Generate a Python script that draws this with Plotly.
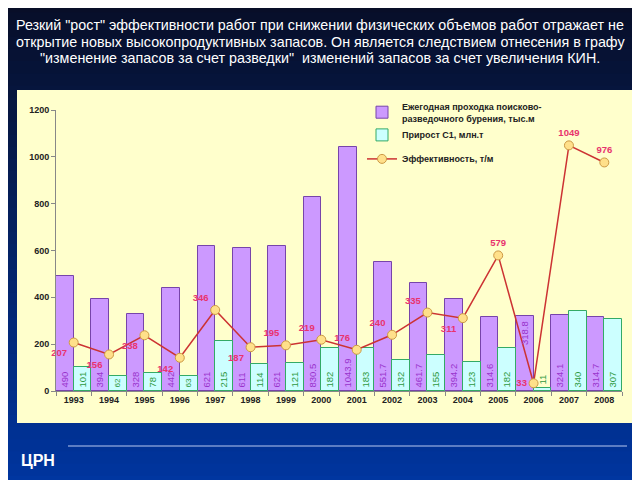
import plotly.graph_objects as go

years = [str(y) for y in range(1993, 2009)]
drilling = [490, 394, 328, 442, 621, 611, 621, 830.5, 1043.9, 551.7, 461.7, 394.2, 314.6, 318.8, 324.1, 314.7]
growth = [101, 62, 78, 63, 215, 114, 121, 182, 183, 132, 155, 123, 182, 11, 340, 307]
efficiency = [207, 156, 238, 142, 346, 187, 195, 219, 176, 240, 335, 311, 579, 33, 1049, 976]
eff_pos = ["bottom left", "bottom left", "bottom left", "bottom left", "top left", "bottom left",
           "top left", "top left", "top left", "top left", "top left", "bottom left",
           "top center", "middle left", "top center", "top center"]

title_lines = [
    'Резкий "рост" эффективности работ при снижении физических объемов работ отражает не',
    'открытие новых высокопродуктивных запасов. Он является следствием отнесения в графу',
    '"изменение запасов за счет разведки"  изменений запасов за счет увеличения КИН.',
]

FONT = "Liberation Sans, Arial, sans-serif"
AX_FONT = "Liberation Sans, Arial, sans-serif"

# figure geometry (px); the page places the figure 8px in from the top-left
OFF = 8
W, H = 640, 480
L, R, T, B = 56 - OFF, 640 - (622 - OFF), 110 - OFF, 480 - (391 - OFF)
pw, ph = W - L - R, H - T - B


def px_x(px):
    return (px - OFF - L) / pw


def px_y(py):
    return (H - B - (py - OFF)) / ph


purple_text = [("" if y == "2006" else f"{v:g}") for y, v in zip(years, drilling)]
cyan_pos = ["outside" if v < 30 else "inside" for v in growth]

fig = go.Figure()
fig.add_trace(go.Bar(
    x=years, y=drilling, name="Ежегодная проходка поисково-<br>разведочного бурения, тыс.м",
    marker=dict(color="#CC99FF", line=dict(color="#7744AA", width=1)),
    text=purple_text, textposition="inside", insidetextanchor="start", textangle=-90,
    insidetextfont=dict(color="#9933CC", size=9.5, family=AX_FONT),
    legendgroup="a",
))
fig.add_trace(go.Bar(
    x=years, y=growth, name="Прирост С1, млн.т",
    marker=dict(color="#CCFFFF", line=dict(color="#33AA66", width=1)),
    text=[f"{v:g}" for v in growth], textposition=cyan_pos, insidetextanchor="start", textangle=-90,
    insidetextfont=dict(color="#2E9940", size=9.5, family=AX_FONT),
    outsidetextfont=dict(color="#2E9940", size=9.5, family=AX_FONT),
    legendgroup="a",
))
fig.add_trace(go.Scatter(
    x=years, y=efficiency, name="Эффективность, т/м", mode="lines+markers+text",
    line=dict(color="#CC3333", width=1.5),
    marker=dict(symbol="circle", size=9, color="#FFE08A", line=dict(color="#CC9944", width=1)),
    text=[str(v) for v in efficiency], textposition=eff_pos,
    textfont=dict(color="#E8336E", size=9.5, family=AX_FONT, weight="bold"),
    legendgroup="b", cliponaxis=False,
))

shapes = []
# background gradient (decorative)
n = 40
top = (8, 14, 40)
bot = (0, 54, 160)
for i in range(n):
    t = i / (n - 1)
    c = tuple(int(top[k] + (bot[k] - top[k]) * t) for k in range(3))
    y0 = i * (H + OFF) / n
    y1 = (i + 1) * (H + OFF) / n + 1
    shapes.append(dict(type="rect", xref="paper", yref="paper",
                       x0=px_x(0), x1=px_x(W + OFF), y0=px_y(y1), y1=px_y(y0),
                       fillcolor=f"rgb{c}", line=dict(width=0), layer="below"))
# chart panel
shapes.append(dict(type="rect", xref="paper", yref="paper",
                   x0=px_x(17), x1=px_x(634), y0=px_y(423), y1=px_y(90),
                   fillcolor="#FFFFCC", line=dict(width=0), layer="below"))
# bottom rule
shapes.append(dict(type="line", xref="paper", yref="paper",
                   x0=px_x(68), x1=px_x(627), y0=px_y(446), y1=px_y(446),
                   line=dict(color="#B8C8F0", width=1)))

annotations = []
for i, line in enumerate(title_lines):
    annotations.append(dict(text=line, xref="paper", yref="paper", x=px_x(320), y=px_y([25, 42, 58][i]),
                            xanchor="center", yanchor="middle", showarrow=False,
                            font=dict(color="white", size=14.3, family=FONT)))
annotations.append(dict(text="<b>ЦРН</b>", xref="paper", yref="paper", x=px_x(19), y=px_y(460),
                        xanchor="left", yanchor="middle", showarrow=False,
                        font=dict(color="white", size=16, family=FONT)))
# 2006 drilling label sits near the top of its bar
i06 = years.index("2006")
annotations.append(dict(text=f"{drilling[i06]:g}", x=i06, y=drilling[i06], xref="x", yref="y",
                        xshift=-8.8, yshift=-3, yanchor="top", xanchor="center", textangle=-90,
                        showarrow=False, font=dict(color="#9933CC", size=9.5, family=AX_FONT)))

fig.update_layout(
    width=W, height=H,
    margin=dict(l=L, r=R, t=T, b=B),
    paper_bgcolor="#0A2466",
    plot_bgcolor="rgba(0,0,0,0)",
    barmode="group", bargap=0, bargroupgap=0,
    shapes=shapes, annotations=annotations,
    showlegend=True,
    legend=dict(x=px_x(362), y=px_y(94), xanchor="left", yanchor="top",
                bgcolor="rgba(0,0,0,0)", traceorder="grouped", tracegroupgap=5,
                font=dict(size=9, family=AX_FONT, color="#222222", weight="bold"),
                itemwidth=30),
    xaxis=dict(type="category", categoryorder="array", categoryarray=years,
               range=[-0.5, len(years) - 0.5],
               showline=True, linecolor="#888888", ticks="outside", ticklen=4,
               tickcolor="#888888", tickson="boundaries", showgrid=False,
               tickfont=dict(size=9, family=AX_FONT, color="#222222", weight="bold")),
    yaxis=dict(range=[0, 1200], dtick=200, showline=True, linecolor="#888888", ticks="outside",
               ticklen=4, tickcolor="#888888", showgrid=False, zeroline=False,
               tickfont=dict(size=9, family=AX_FONT, color="#222222", weight="bold")),
)

fig.write_html("out.html")
